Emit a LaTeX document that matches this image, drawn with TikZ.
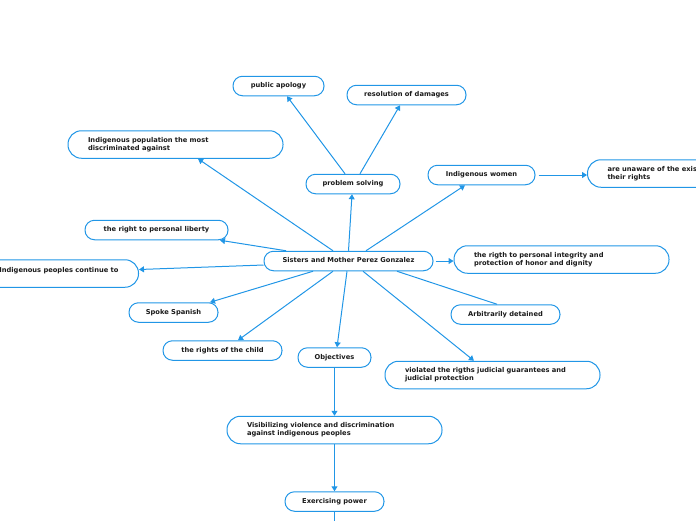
\documentclass[tikz,border=0pt]{standalone}
\usepackage{fontspec}
\setmainfont{DejaVu Sans}
\usetikzlibrary{arrows.meta}
\definecolor{mapblue}{HTML}{2196E6}
\definecolor{maptext}{HTML}{1A1A1A}
\tikzset{
    topic/.style={draw=mapblue, line width=1pt, rectangle, rounded corners=9.5pt,
        minimum height=19.5pt, inner xsep=4pt, inner ysep=0pt, text=maptext,
        text height=5pt, text depth=1.5pt,
        font=\bfseries\fontsize{6.7}{8}\selectfont},
    longtopic/.style={topic, rounded corners=13.5pt, minimum height=27.5pt,
        text height=, text depth=,
        text width=175pt, inner xsep=20pt, align=left},
    link/.style={draw=mapblue, line width=1pt, -{Triangle[length=5pt,width=6pt]}},
    plainlink/.style={draw=mapblue, line width=1pt}
}
\begin{document}
\begin{tikzpicture}[x=1pt, y=-1pt]
    \useasboundingbox (0,0) rectangle (696,520);
    \clip (0,0) rectangle (696,520);

    % central topic
    \node[topic, minimum width=169pt] (sisters) at (348.5,261) {Sisters and Mother Perez Gonzalez};

    % upper branch
    \node[topic, minimum width=94pt] (solving) at (353,184) {problem solving};
    \node[topic, minimum width=91pt] (apology) at (278.5,86) {public apology};
    \node[topic, minimum width=119pt] (damages) at (406.5,95) {resolution of damages};
    \node[longtopic] (population) at (175.5,144.5) {Indigenous population the most\\discriminated against};
    \node[topic, minimum width=107pt] (women) at (481.5,175) {Indigenous women};
    \node[longtopic, text width=, anchor=west] (unaware) at (587,173.5) {are unaware of the existence of\\their rights};

    % left and right side
    \node[topic, minimum width=143pt] (liberty) at (156.5,230) {the right to personal liberty};
    \node[longtopic, text width=, anchor=east] (continue) at (139,273.5) {Indigenous peoples continue to\\\mbox{}};
    \node[longtopic] (integrity) at (561.5,259.5) {the rigth to personal integrity and\\protection of honor and dignity};
    \node[topic, minimum width=89pt] (spanish) at (173.5,312.5) {Spoke Spanish};
    \node[topic, minimum width=109pt] (detained) at (505.5,314.5) {Arbitrarily detained};
    \node[topic, minimum width=119pt] (child) at (222.5,350.5) {the rights of the child};
    \node[longtopic] (violated) at (492.5,375) {violated the rigths judicial guarantees and\\judicial protection};

    % lower branch
    \node[topic, minimum width=73pt] (objectives) at (334.5,357.5) {Objectives};
    \node[longtopic] (visible) at (334.5,430) {Visibilizing violence and discrimination\\against indigenous peoples};
    \node[topic, minimum width=99pt] (power) at (334.5,501.5) {Exercising power};
    \coordinate (below) at (334.5,530);

    % connectors
    \draw[link] (sisters.north) -- ([xshift=-1pt]solving.south);
    \draw[link] ([xshift=-8pt]solving.north) -- ([xshift=8.5pt]apology.south);
    \draw[link] ([xshift=7pt]solving.north) -- ([xshift=-6.5pt]damages.south);
    \draw[link] ([xshift=-15.5pt]sisters.north) -- ([xshift=22.5pt]population.south);
    \draw[link] ([xshift=17.5pt]sisters.north) -- ([xshift=-16.5pt]women.south);
    \draw[link, shorten <=3pt] (women.east) -- (women.east -| unaware.west);
    \draw[link] ([xshift=-62.5pt]sisters.north) -- ([xshift=63.5pt]liberty.south);
    \draw[link] ([yshift=-4pt]sisters.west) -- ([yshift=4pt]continue.east);
    \draw[link, shorten <=2pt] (sisters.east) -- (sisters.east -| integrity.west);
    \draw[link] ([xshift=-35.5pt]sisters.south) -- ([xshift=36.5pt]spanish.north);
    \draw[plainlink] ([xshift=48.5pt]sisters.south) -- ([xshift=-8.5pt]detained.north);
    \draw[link] ([xshift=-15.5pt]sisters.south) -- ([xshift=15.5pt]child.north);
    \draw[link] ([xshift=-1.5pt]sisters.south) -- ([xshift=2.5pt]objectives.north);
    \draw[link] ([xshift=14.5pt]sisters.south) -- ([xshift=-18.5pt]violated.north);
    \draw[link] (objectives.south) -- (visible.north);
    \draw[link] (visible.south) -- (power.north);
    \draw[plainlink] (power.south) -- (below);
\end{tikzpicture}
\end{document}
